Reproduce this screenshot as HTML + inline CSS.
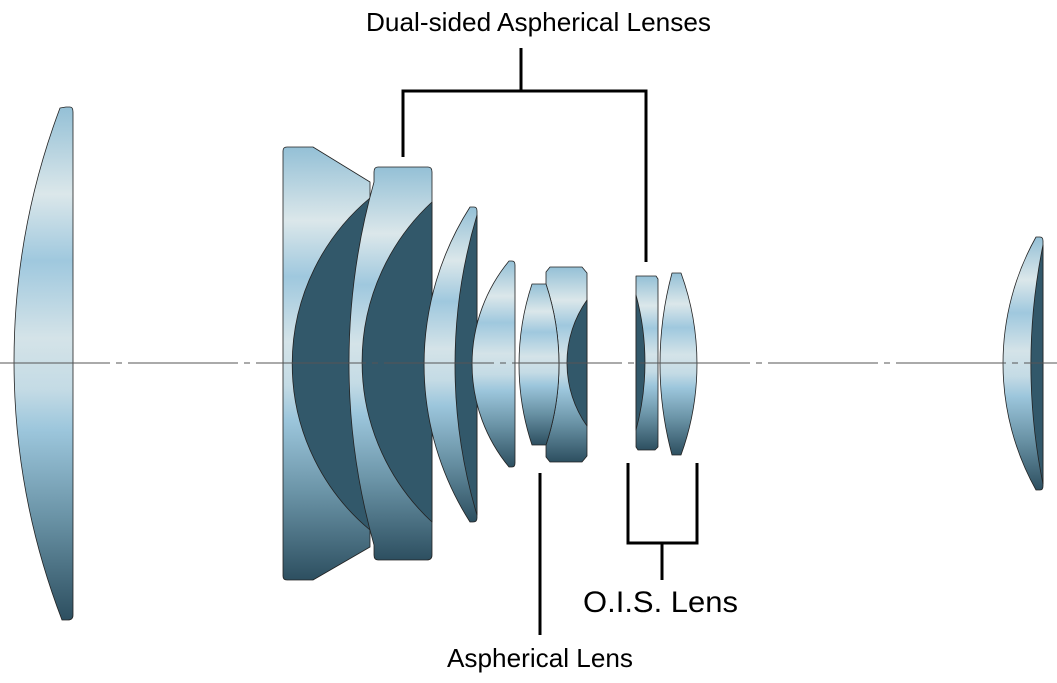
<!DOCTYPE html>
<html><head><meta charset="utf-8"><style>html,body{margin:0;padding:0;background:#fff}svg{display:block}</style></head>
<body>
<svg width="1057" height="683" viewBox="0 0 1057 683" xmlns="http://www.w3.org/2000/svg">
<defs>
<linearGradient id="g" x1="0" y1="0" x2="0" y2="1">
<stop offset="0" stop-color="#94c0d6"/>
<stop offset="0.17" stop-color="#dbe7ea"/>
<stop offset="0.3" stop-color="#9fc8de"/>
<stop offset="0.45" stop-color="#d4e3e8"/>
<stop offset="0.55" stop-color="#c4dbe5"/>
<stop offset="0.63" stop-color="#9cc6dc"/>
<stop offset="0.8" stop-color="#6a93a6"/>
<stop offset="1" stop-color="#2d4f60"/>
</linearGradient>
</defs>
<g stroke="#222" stroke-width="0.8" stroke-linejoin="round">
<path d="M66,107 L70,107 Q73,107 73,112 L73,615 Q73,620 68,620 L62,620 A721,721 0 0 1 60,108 Z" fill="url(#g)"/>
<path d="M287,147 L313,147 L370,182 L370,547 L313,580 L287,580 Q283,580 283,576 L283,151 Q283,147 287,147Z" fill="url(#g)"/>
<path d="M370,198 A216,216 0 0 0 370,530 Z" fill="#32586a"/>
<path d="M378,167 L428,167 Q432,167 432,172 L432,555 Q432,560 427,560 L378,560 Q374,560 374,555 L374,545 A671,671 0 0 1 374,182 L374,172 Q374,167 378,167Z" fill="url(#g)"/>
<path d="M432,202 A218,218 0 0 0 432,522 Z" fill="#32586a"/>
<path d="M470,207 L474,207 Q477,207 477,211 L477,518 Q477,522 473,522 L470,522 A293,293 0 0 1 470,207Z" fill="url(#g)"/>
<path d="M477,215 A522,522 0 0 0 477,515 Z" fill="#32586a"/>
<path d="M509,261 L512,261 Q515,261 515,265 L515,463 Q515,467 512,467 L509,467 A162,162 0 0 1 509,261Z" fill="url(#g)"/>
<path d="M550,267 L582,267 L587,273 L587,456 L582,462 L550,462 L546,457 L546,445 A256,256 0 0 0 546,284 L546,272Z" fill="url(#g)"/>
<path d="M587,300 A109,109 0 0 0 587,426 Z" fill="#32586a"/>
<path d="M532,284 L546,284 A256,256 0 0 1 546,445 L532,445 A256,256 0 0 1 532,284Z" fill="url(#g)"/>
<path d="M636,276 L656,276 L658,279 L658,447 L655,450 L638,450 L636,447Z" fill="url(#g)"/>
<path d="M636,295 A258,258 0 0 1 636,430 Z" fill="#32586a"/>
<path d="M672,273 L681,273 A267,267 0 0 1 681,455 L672,455 A351,351 0 0 1 672,273Z" fill="url(#g)"/>
<path d="M1036,237 L1040,237 Q1043,237 1043,241 L1043,486 Q1043,490 1040,490 L1036,490 A259,259 0 0 1 1036,237Z" fill="url(#g)"/>
<path d="M1043,245 A601,601 0 0 0 1043,484 Z" fill="#32586a"/>
</g>
<line x1="0" y1="363" x2="1057" y2="363" stroke="#555" stroke-width="1" stroke-dasharray="110 6 6 6"/>
<g stroke="#000" stroke-width="3" fill="none">
<polyline points="403,157 403,91 646,91 646,262"/>
<line x1="521" y1="48" x2="521" y2="91"/>
<polyline points="628,463 628,543 697,543 697,463"/>
<line x1="662" y1="543" x2="662" y2="580"/>
<line x1="540" y1="473" x2="540" y2="635"/>
</g>
<g font-family="Liberation Sans, sans-serif" fill="#000">
<text x="366" y="31" font-size="26" textLength="345" lengthAdjust="spacingAndGlyphs">Dual-sided Aspherical Lenses</text>
<text x="583" y="612" font-size="30" textLength="155" lengthAdjust="spacingAndGlyphs">O.I.S. Lens</text>
<text x="447" y="667" font-size="26" textLength="186" lengthAdjust="spacingAndGlyphs">Aspherical Lens</text>
</g>
</svg>
</body></html>
